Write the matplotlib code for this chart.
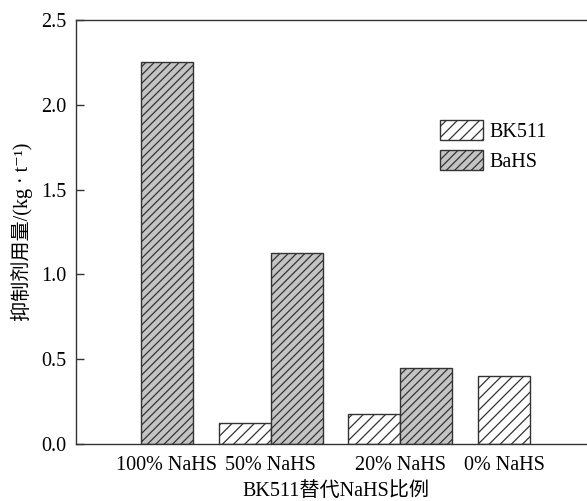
import matplotlib
matplotlib.use("Agg")
import matplotlib.pyplot as plt
import numpy as np

categories = ["100% NaHS", "50% NaHS", "20% NaHS", "0% NaHS"]
bk511 = [0.0, 0.124, 0.177, 0.40]
bahs = [2.25, 1.126, 0.448, 0.0]
series_names = ["BK511", "BaHS"]
ylabel = "抑制剂用量/(kg · t⁻¹)"
xlabel = "BK511替代NaHS比例"

plt.rcParams['font.family'] = ['Liberation Serif', 'Noto Sans CJK SC', 'DejaVu Sans']
plt.rcParams['hatch.linewidth'] = 0.9
plt.rcParams['hatch.color'] = '#2a2a2a'

fig = plt.figure(figsize=(5.87, 5.01), dpi=100)
ax = fig.add_axes([0.1295, 0.1138, 0.8841, 0.8463])

fs = 14.5
x = np.arange(len(categories))
w = 0.4
off = [-w / 2, w / 2]
ec = '#333333'
bk = np.array(bk511)
ba = np.array(bahs)
ax.bar(x[bk > 0] + off[0], bk[bk > 0], w,
       facecolor='white', edgecolor=ec, hatch='///', linewidth=1.0, label=series_names[0])
ax.bar(x[ba > 0] + off[1], ba[ba > 0], w,
       facecolor='#c4c4c4', edgecolor=ec, hatch='////', linewidth=1.0, label=series_names[1])

# tick positions: centered on bars actually present in each group
tick_pos = []
for i in range(len(categories)):
    ps = [x[i] + off[j] for j, v in enumerate([bk511[i], bahs[i]]) if v > 0]
    tick_pos.append(np.mean(ps))
ax.set_xticks(tick_pos)
ax.set_xticklabels(categories, fontsize=fs)
ax.tick_params(axis='x', length=0, pad=9)

ax.set_xlim(-0.5, 3.5)
ax.set_ylim(0, 2.5)
ax.set_yticks([0, 0.5, 1.0, 1.5, 2.0, 2.5])
ax.set_yticklabels(["0.0", "0.5", "1.0", "1.5", "2.0", "2.5"], fontsize=fs)
ax.tick_params(axis='y', direction='in', length=6, width=1, color=ec, pad=7)
for s in ax.spines.values():
    s.set_color(ec)
    s.set_linewidth(1.0)

ax.set_ylabel(ylabel, fontsize=fs, labelpad=6)
ax.set_xlabel(xlabel, fontsize=fs, labelpad=5)

leg = ax.legend(loc='upper left', bbox_to_anchor=(0.701, 0.765), frameon=False,
                fontsize=fs, handlelength=2.15, handleheight=1.2, handletextpad=0.3,
                labelspacing=0.4, borderpad=0, borderaxespad=0)

fig.savefig("out.png", dpi=100)
